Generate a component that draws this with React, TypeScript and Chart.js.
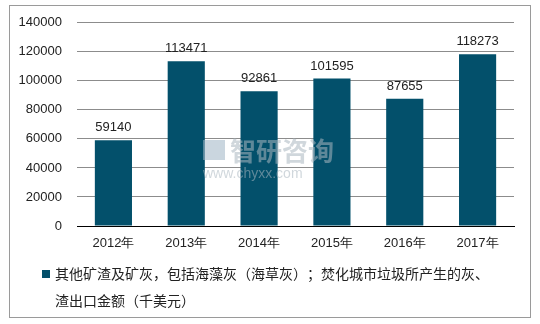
import React, { useEffect, useRef } from "react";
import { Chart, registerables } from "chart.js";

Chart.register(...registerables);

const categories = ["2012年", "2013年", "2014年", "2015年", "2016年", "2017年"];
const values = [59140, 113471, 92861, 101595, 87655, 118273];
const legendLine1 = "其他矿渣及矿灰，包括海藻灰（海草灰）；焚化城市垃圾所产生的灰、";
const legendLine2 = "渣出口金额（千美元）";
const watermarkMain = "智研咨询";
const watermarkUrl = "www.chyxx.com";

const BAR = "#03506B";
const FONT = "'Liberation Sans', Arial, sans-serif";
const CJK = "'Noto Sans CJK SC', 'Liberation Sans', sans-serif";

const extras = {
  id: "extras",
  afterDatasetsDraw(chart: any) {
    const ctx = chart.ctx;
    const meta = chart.getDatasetMeta(0);
    ctx.save();
    ctx.fillStyle = "#222";
    ctx.font = `13px ${FONT}`;
    ctx.textAlign = "center";
    ctx.textBaseline = "bottom";
    meta.data.forEach((el: any, i: number) => {
      ctx.fillText(String(values[i]), el.x, el.y - 6);
    });
    ctx.restore();
  },
  afterDraw(chart: any) {
    const ctx = chart.ctx;
    ctx.save();
    // border
    ctx.strokeStyle = "#9a9a9a";
    ctx.lineWidth = 1;
    ctx.strokeRect(9.5, 5.5, 521, 312);
    // watermark
    ctx.globalAlpha = 0.55;
    ctx.fillStyle = "#9fb4c4";
    ctx.fillRect(203, 140, 22, 20);
    ctx.font = `bold 26px ${CJK}`;
    ctx.textAlign = "left";
    ctx.textBaseline = "middle";
    ctx.fillStyle = "#a9b6c0";
    ctx.fillText(watermarkMain, 230, 151);
    ctx.font = `14px ${FONT}`;
    ctx.fillText(watermarkUrl, 203, 174);
    ctx.globalAlpha = 1;
    // legend
    ctx.fillStyle = BAR;
    ctx.fillRect(42, 270, 8, 8);
    ctx.fillStyle = "#222";
    ctx.font = `14px ${CJK}`;
    ctx.textAlign = "left";
    ctx.textBaseline = "middle";
    ctx.fillText(legendLine1, 55, 274);
    ctx.fillText(legendLine2, 55, 301);
    ctx.restore();
  },
};

export default function App() {
  const ref = useRef<HTMLCanvasElement>(null);
  useEffect(() => {
    const chart = new Chart(ref.current!, {
      type: "bar",
      data: {
        labels: categories,
        datasets: [
          {
            label: legendLine1 + legendLine2,
            data: values,
            backgroundColor: BAR,
            categoryPercentage: 1,
            barPercentage: 0.51,
          },
        ],
      },
      options: {
        animation: false,
        responsive: false,
        maintainAspectRatio: false,
        layout: { padding: { left: 0, top: 21, right: 26, bottom: 0 } },
        plugins: {
          legend: { display: false },
          tooltip: { enabled: false },
        },
        scales: {
          x: {
            afterFit(scale: any) {
              scale.height = 98;
            },
            grid: { display: false, drawTicks: false },
            border: { color: "#000", width: 1 },
            ticks: { color: "#222", font: { size: 13, family: FONT }, padding: 10 },
          },
          y: {
            min: 0,
            max: 140000,
            afterFit(scale: any) {
              scale.width = 77;
            },
            ticks: {
              stepSize: 20000,
              color: "#222",
              font: { size: 13, family: FONT },
              padding: 15,
              callback: (v: any) => String(v),
            },
            grid: { color: "#8c8c8c", drawTicks: false },
            border: { display: false },
          },
        },
      },
      plugins: [extras],
    });
    return () => chart.destroy();
  }, []);
  return (
    <div style={{ position: "fixed", left: 0, top: 0, width: 540, height: 324, background: "#fff" }}>
      <canvas ref={ref} width={540} height={324} />
    </div>
  );
}
